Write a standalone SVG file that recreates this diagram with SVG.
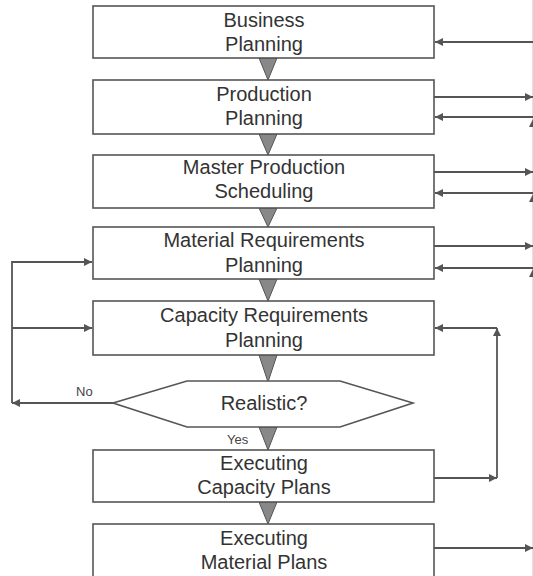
<svg xmlns="http://www.w3.org/2000/svg" width="533" height="576" viewBox="0 0 533 576">
<defs>
<marker id="ah" viewBox="0 0 10 10" refX="10" refY="5" markerWidth="8" markerHeight="8" markerUnits="userSpaceOnUse" orient="auto">
<path d="M0,0 L10,5 L0,10 Z" fill="#555"/>
</marker>
</defs>
<style>
.box{fill:#fff;stroke:#555;stroke-width:1.6}
.t{font-family:"Liberation Sans",Arial,sans-serif;font-size:20px;fill:#333;text-anchor:middle}
.lbl{font-family:"Liberation Sans",Arial,sans-serif;font-size:13px;fill:#444}
.tri{fill:#888;stroke:#555;stroke-width:1}
.c{fill:none;stroke:#555;stroke-width:1.8}
.ca{fill:none;stroke:#555;stroke-width:1.8;marker-end:url(#ah)}
</style>
<rect width="533" height="576" fill="#fff"/>
<line x1="532.5" y1="0" x2="532.5" y2="576" stroke="#e2e2e2" stroke-width="1"/>
<g id="connectors">
<polygon class="tri" points="259,58 277,58 268,80"/>
<polygon class="tri" points="259,134 277,134 268,155"/>
<polygon class="tri" points="259,208 277,208 268,227"/>
<polygon class="tri" points="259,279 277,279 268,301"/>
<polygon class="tri" points="259,355 277,355 268,382"/>
<polygon class="tri" points="259,427 277,427 268,450"/>
<polygon class="tri" points="259,502 277,502 268,524"/>
<line class="ca" x1="533" y1="42" x2="435" y2="42"/>
<line class="ca" x1="434" y1="97" x2="533" y2="97"/>
<line class="ca" x1="533" y1="117" x2="435" y2="117"/>
<line class="ca" x1="434" y1="172" x2="533" y2="172"/>
<line class="ca" x1="533" y1="193" x2="435" y2="193"/>
<line class="ca" x1="434" y1="246" x2="533" y2="246"/>
<line class="ca" x1="533" y1="268" x2="435" y2="268"/>
<polygon points="529,127 533,119 533,127" fill="#555"/>
<polygon points="529,202 533,194 533,202" fill="#555"/>
<polygon points="529,277 533,269 533,277" fill="#555"/>
<line class="ca" x1="434" y1="478" x2="497" y2="478"/>
<line class="ca" x1="497" y1="478" x2="497" y2="328"/>
<line class="ca" x1="497" y1="328" x2="435" y2="328"/>
<line class="ca" x1="434" y1="548" x2="533" y2="548"/>
<line class="ca" x1="113" y1="403" x2="12" y2="403"/>
<polyline class="c" points="12,403 12,262 20,262"/>
<line class="ca" x1="12" y1="262" x2="92" y2="262"/>
<line class="ca" x1="12" y1="328" x2="92" y2="328"/>
<text class="lbl" x="76" y="396">No</text>
<text class="lbl" x="227" y="444">Yes</text>
</g>
<g id="business">
<rect class="box" x="93" y="6" width="341" height="52"/>
<text class="t" x="264" y="27">Business</text>
<text class="t" x="264" y="51">Planning</text>
</g>
<g id="production">
<rect class="box" x="93" y="80" width="341" height="54"/>
<text class="t" x="264" y="101">Production</text>
<text class="t" x="264" y="125">Planning</text>
</g>
<g id="mps">
<rect class="box" x="93" y="155" width="341" height="53"/>
<text class="t" x="264" y="174">Master Production</text>
<text class="t" x="264" y="198">Scheduling</text>
</g>
<g id="mrp">
<rect class="box" x="93" y="227" width="341" height="52"/>
<text class="t" x="264" y="247">Material Requirements</text>
<text class="t" x="264" y="272">Planning</text>
</g>
<g id="crp">
<rect class="box" x="93" y="301" width="341" height="54"/>
<text class="t" x="264" y="322">Capacity Requirements</text>
<text class="t" x="264" y="347">Planning</text>
</g>
<g id="realistic">
<polygon class="box" points="113,403 187,381 340,381 413,403 340,427 187,427"/>
<text class="t" x="264" y="410">Realistic?</text>
</g>
<g id="exec-capacity">
<rect class="box" x="93" y="450" width="341" height="52"/>
<text class="t" x="264" y="470">Executing</text>
<text class="t" x="264" y="494">Capacity Plans</text>
</g>
<g id="exec-material">
<rect class="box" x="93" y="524" width="341" height="60"/>
<text class="t" x="264" y="545">Executing</text>
<text class="t" x="264" y="569">Material Plans</text>
</g>
</svg>
